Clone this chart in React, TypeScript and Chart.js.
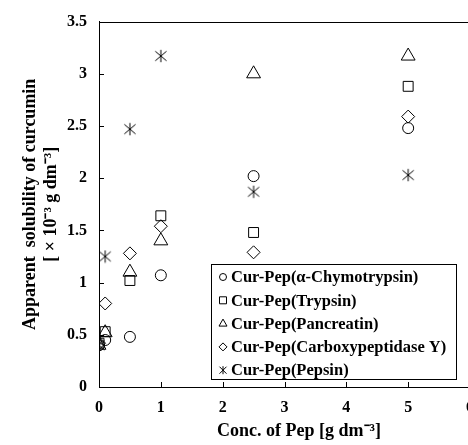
import React, { useEffect, useRef } from "react";
import { Chart, registerables } from "chart.js";

Chart.register(...registerables);

const concentrations = [0, 0.1, 0.5, 1, 2.5, 5];
const chymotrypsin = [0.4, 0.45, 0.48, 1.07, 2.02, 2.48];
const trypsin = [0.42, 0.53, 1.02, 1.64, 1.48, 2.88];
const pancreatin = [0.4, 0.52, 1.1, 1.4, 3.0, 3.17];
const carboxypeptidase = [0.42, 0.8, 1.28, 1.54, 1.29, 2.59];
const pepsin = [0.4, 1.25, 2.47, 3.17, 1.87, 2.03];

const seriesLabels = [
  "Cur-Pep(α-Chymotrypsin)",
  "Cur-Pep(Trypsin)",
  "Cur-Pep(Pancreatin)",
  "Cur-Pep(Carboxypeptidase Y)",
  "Cur-Pep(Pepsin)",
];
const yTitle = ["Apparent  solubility of curcumin", "[ × 10⁻³ g dm⁻³]"];
const xTitle = "Conc. of Pep [g dm⁻³]";

const FONT = "'Liberation Serif', 'Times New Roman', serif";

function makeStar(size: number): HTMLCanvasElement {
  const c = document.createElement("canvas");
  c.width = size;
  c.height = size;
  const g = c.getContext("2d")!;
  g.strokeStyle = "#000";
  g.lineWidth = 1;
  const m = size / 2;
  const a = size * 0.4;
  g.beginPath();
  g.moveTo(m - a, m - a * 0.85);
  g.lineTo(m + a, m + a * 0.85);
  g.moveTo(m + a, m - a * 0.85);
  g.lineTo(m - a, m + a * 0.85);
  g.moveTo(m, m - a * 1.1);
  g.lineTo(m, m + a * 1.1);
  g.stroke();
  return c;
}

export default function App() {
  const ref = useRef<HTMLCanvasElement>(null);

  useEffect(() => {
    const star = makeStar(14);
    const toPts = (arr: number[]) => concentrations.map((x, i) => ({ x, y: arr[i] }));
    const styles: any[] = ["circle", "rect", "triangle", "rectRot", star];
    const radii = [5.5, 7, 8, 6.5, 6];
    const data = [chymotrypsin, trypsin, pancreatin, carboxypeptidase, pepsin];

    const decor = {
      id: "decor",
      afterDatasetsDraw(chart: any) {
        const { ctx, chartArea, scales } = chart;
        const xs = scales.x;
        const ys = scales.y;
        ctx.save();
        ctx.strokeStyle = "#000";
        ctx.lineWidth = 1;
        // top border
        ctx.beginPath();
        ctx.moveTo(chartArea.left, Math.round(chartArea.top) + 0.5);
        ctx.lineTo(chartArea.right + 10, Math.round(chartArea.top) + 0.5);
        ctx.stroke();
        // inward ticks
        ctx.beginPath();
        for (let v = 1; v <= 6; v++) {
          const px = Math.round(xs.getPixelForValue(v)) + 0.5;
          ctx.moveTo(px, chartArea.bottom);
          ctx.lineTo(px, chartArea.bottom - 5);
        }
        for (let v = 0.5; v <= 3.5; v += 0.5) {
          const py = Math.round(ys.getPixelForValue(v)) + 0.5;
          ctx.moveTo(chartArea.left, py);
          ctx.lineTo(chartArea.left + 5, py);
        }
        ctx.stroke();

        // legend box
        const bx = 211.5, by = 264.5, bw = 245, bh = 115;
        ctx.fillStyle = "#fff";
        ctx.fillRect(bx, by, bw, bh);
        ctx.strokeRect(bx, by, bw, bh);
        ctx.font = `bold 16.5px ${FONT}`;
        ctx.fillStyle = "#000";
        ctx.textBaseline = "middle";
        ctx.textAlign = "left";
        const mx = 223;
        for (let i = 0; i < seriesLabels.length; i++) {
          const cy = 277 + i * 23.3;
          ctx.beginPath();
          if (i === 0) {
            ctx.arc(mx, cy, 3.5, 0, Math.PI * 2);
          } else if (i === 1) {
            ctx.rect(mx - 3.5, cy - 3.5, 7, 7);
          } else if (i === 2) {
            ctx.moveTo(mx, cy - 4.5);
            ctx.lineTo(mx + 4, cy + 2.5);
            ctx.lineTo(mx - 4, cy + 2.5);
            ctx.closePath();
          } else if (i === 3) {
            ctx.moveTo(mx, cy - 4);
            ctx.lineTo(mx + 4, cy);
            ctx.lineTo(mx, cy + 4);
            ctx.lineTo(mx - 4, cy);
            ctx.closePath();
          } else {
            ctx.moveTo(mx - 3.5, cy - 3.5);
            ctx.lineTo(mx + 3.5, cy + 3.5);
            ctx.moveTo(mx + 3.5, cy - 3.5);
            ctx.lineTo(mx - 3.5, cy + 3.5);
            ctx.moveTo(mx, cy - 4);
            ctx.lineTo(mx, cy + 4);
          }
          ctx.stroke();
          ctx.fillText(seriesLabels[i], 231, cy + 1);
        }

        // x title
        ctx.textAlign = "center";
        ctx.font = `bold 18px ${FONT}`;
        ctx.fillText(xTitle, 299, 431);
        ctx.restore();
      },
    };

    const chart = new Chart(ref.current!, {
      type: "scatter",
      data: {
        datasets: data.map((arr, i) => ({
          label: seriesLabels[i],
          data: toPts(arr),
          pointStyle: styles[i],
          pointRadius: radii[i],
          pointHoverRadius: radii[i],
          borderColor: "#000",
          backgroundColor: "rgba(0,0,0,0)",
          borderWidth: 1,
        })),
      },
      options: {
        responsive: false,
        animation: false,
        events: [],
        layout: { padding: { top: 21, right: 30, left: 0, bottom: 0 } },
        plugins: { legend: { display: false }, tooltip: { enabled: false } },
        scales: {
          x: {
            type: "linear",
            min: 0,
            max: 6,
            ticks: {
              stepSize: 1,
              padding: 11,
              color: "#000",
              font: { family: FONT, size: 16, weight: "bold" },
            },
            grid: { drawOnChartArea: false, drawTicks: false },
            border: { display: true, color: "#000", width: 1 },
            afterFit: (s: any) => {
              s.height = 58;
            },
          },
          y: {
            min: 0,
            max: 3.5,
            ticks: {
              stepSize: 0.5,
              padding: 12,
              color: "#000",
              font: { family: FONT, size: 16, weight: "bold" },
              callback: (v: any) => String(v),
            },
            grid: { drawOnChartArea: false, drawTicks: false },
            border: { display: true, color: "#000", width: 1 },
            title: {
              display: true,
              text: yTitle,
              color: "#000",
              font: { family: FONT, size: 18, weight: "bold", lineHeight: 1.17 },
              padding: { top: 19.5, bottom: 0 },
            },
            afterFit: (s: any) => {
              s.width = 99;
            },
          },
        },
      },
      plugins: [decor],
    });
    return () => chart.destroy();
  }, []);

  return (
    <div style={{ position: "fixed", left: 0, top: 0, width: 468, height: 445, overflow: "hidden", background: "#fff" }}>
      <canvas ref={ref} width={500} height={445} style={{ display: "block", width: 500, height: 445 }} />
    </div>
  );
}
